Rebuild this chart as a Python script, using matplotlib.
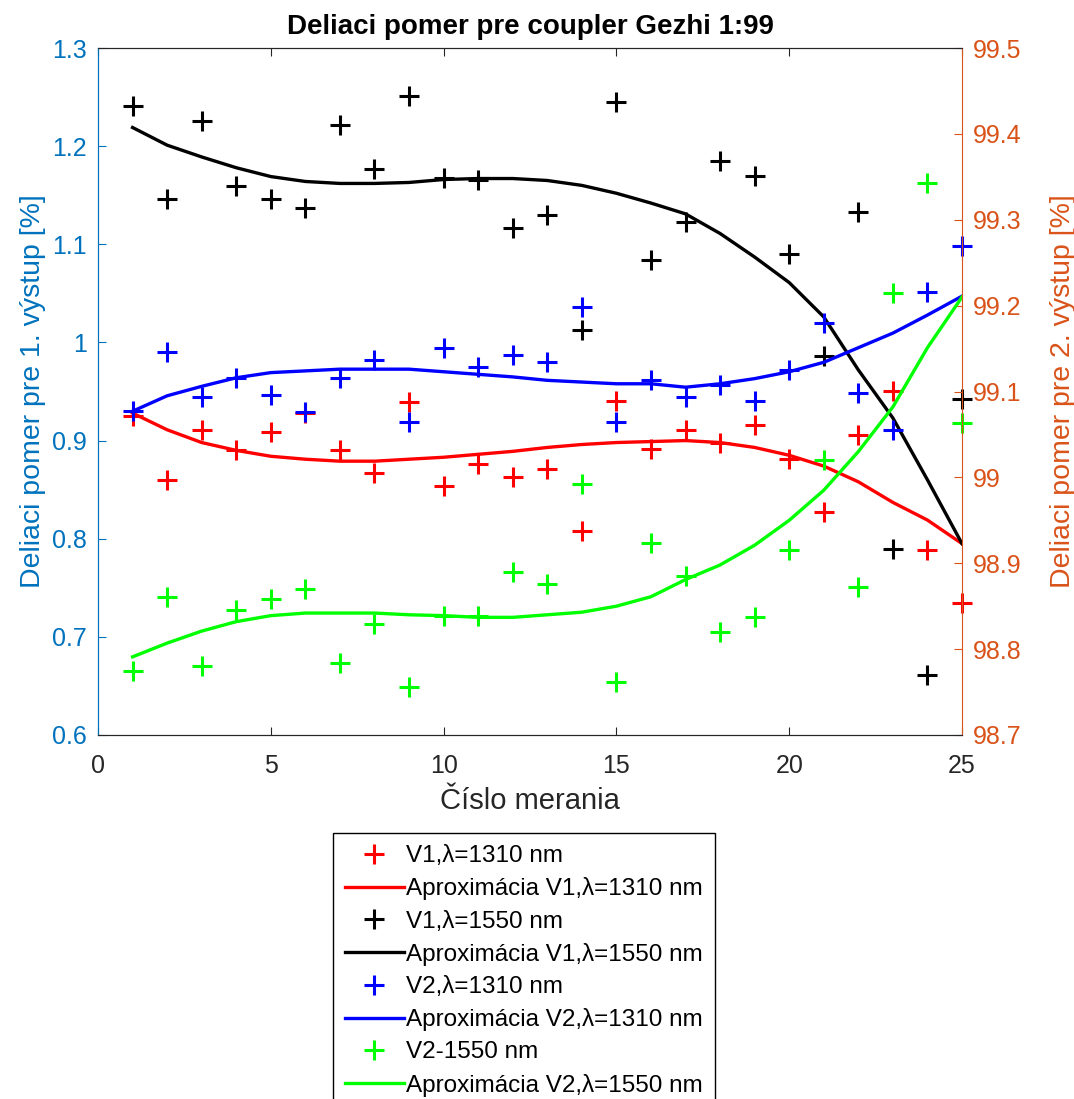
import matplotlib
matplotlib.use("Agg")
from matplotlib import pyplot as plt

plt.rcParams['font.family'] = ['Liberation Sans', 'DejaVu Sans']

meranie = list(range(1, 26))

# V1 (left axis, %)
v1_1310 = [0.925, 0.860, 0.911, 0.890, 0.909, 0.928, 0.890, 0.867, 0.939, 0.854,
           0.876, 0.863, 0.871, 0.808, 0.940, 0.891, 0.911, 0.898, 0.916, 0.881,
           0.827, 0.906, 0.950, 0.788, 0.734]
v1_1310_apx = [0.928, 0.911, 0.898, 0.890, 0.884, 0.881, 0.879, 0.879, 0.881, 0.883,
               0.886, 0.889, 0.893, 0.896, 0.898, 0.899, 0.900, 0.898, 0.893, 0.885,
               0.874, 0.858, 0.837, 0.819, 0.795]
v1_1550 = [1.241, 1.146, 1.226, 1.159, 1.146, 1.137, 1.222, 1.177, 1.251, 1.168,
           1.166, 1.117, 1.130, 1.013, 1.245, 1.084, 1.123, 1.185, 1.170, 1.090,
           0.986, 1.133, 0.790, 0.661, 0.942]
v1_1550_apx = [1.219, 1.201, 1.189, 1.178, 1.169, 1.164, 1.162, 1.162, 1.163, 1.166,
               1.167, 1.167, 1.165, 1.160, 1.152, 1.142, 1.131, 1.111, 1.087, 1.061,
               1.026, 0.972, 0.923, 0.860, 0.795]

# V2 (right axis, %)
v2_1310 = [99.077, 99.146, 99.094, 99.116, 99.096, 99.076, 99.116, 99.137, 99.064, 99.151,
           99.129, 99.143, 99.134, 99.198, 99.064, 99.113, 99.094, 99.108, 99.089, 99.125,
           99.180, 99.098, 99.055, 99.216, 99.269]
v2_1310_apx = [99.077, 99.095, 99.106, 99.116, 99.122, 99.124, 99.126, 99.126, 99.126, 99.123,
               99.120, 99.117, 99.113, 99.111, 99.109, 99.109, 99.105, 99.109, 99.115, 99.123,
               99.134, 99.151, 99.168, 99.189, 99.211]
v2_1550 = [98.775, 98.861, 98.780, 98.846, 98.858, 98.870, 98.784, 98.829, 98.756, 98.839,
           98.839, 98.890, 98.876, 98.992, 98.762, 98.923, 98.885, 98.820, 98.837, 98.915,
           99.020, 98.872, 99.215, 99.343, 99.063]
v2_1550_apx = [98.791, 98.807, 98.821, 98.832, 98.839, 98.842, 98.842, 98.842, 98.840, 98.839,
               98.837, 98.837, 98.840, 98.843, 98.850, 98.861, 98.881, 98.898, 98.921, 98.950,
               98.985, 99.030, 99.082, 99.151, 99.210]

left_ticks = [0.6, 0.7, 0.8, 0.9, 1, 1.1, 1.2, 1.3]
left_labels = ['0.6', '0.7', '0.8', '0.9', '1', '1.1', '1.2', '1.3']
right_ticks = [98.7, 98.8, 98.9, 99, 99.1, 99.2, 99.3, 99.4, 99.5]
right_labels = ['98.7', '98.8', '98.9', '99', '99.1', '99.2', '99.3', '99.4', '99.5']

c_left = '#0072BD'
c_right = '#D95319'
ms = 14
mew = 2.2

fig = plt.figure(figsize=(10.74, 10.99), dpi=100)
ax = fig.add_axes([98 / 1074, 1 - 735 / 1099, (962 - 98) / 1074, (735 - 48) / 1099])
ax2 = ax.twinx()

h1, = ax.plot(meranie, v1_1310, '+', color='red', ms=ms, mew=mew, clip_on=False, label='V1,λ=1310 nm')
h2, = ax.plot(meranie, v1_1310_apx, '-', color='red', lw=2.4, label='Aproximácia V1,λ=1310 nm')
h3, = ax.plot(meranie, v1_1550, '+', color='black', ms=ms, mew=mew, clip_on=False, label='V1,λ=1550 nm')
h4, = ax.plot(meranie, v1_1550_apx, '-', color='black', lw=2.4, label='Aproximácia V1,λ=1550 nm')
h5, = ax2.plot(meranie, v2_1310, '+', color='blue', ms=ms, mew=mew, clip_on=False, label='V2,λ=1310 nm')
h6, = ax2.plot(meranie, v2_1310_apx, '-', color='blue', lw=2.4, label='Aproximácia V2,λ=1310 nm')
h7, = ax2.plot(meranie, v2_1550, '+', color='#00FF00', ms=ms, mew=mew, clip_on=False, label='V2-1550 nm')
h8, = ax2.plot(meranie, v2_1550_apx, '-', color='#00FF00', lw=2.4, label='Aproximácia V2,λ=1550 nm')

ax.set_xlim(0, 25)
ax.set_ylim(0.6, 1.3)
ax2.set_ylim(98.7, 99.5)
ax.set_xticks([0, 5, 10, 15, 20, 25])
ax.set_yticks(left_ticks)
ax.set_yticklabels(left_labels)
ax2.set_yticks(right_ticks)
ax2.set_yticklabels(right_labels)

fs = 18
ax.tick_params(axis='x', direction='in', top=True, labelsize=fs, colors='#262626', length=6, pad=14)
ax.tick_params(axis='y', direction='in', labelsize=fs, colors=c_left, length=6, pad=8)
ax2.tick_params(axis='y', direction='in', labelsize=fs, colors=c_right, length=6, pad=8)
ax.spines['left'].set_color(c_left)
ax2.spines['left'].set_color(c_left)
ax2.spines['right'].set_color(c_right)
ax.spines['right'].set_visible(False)
for s in ['top', 'bottom']:
    ax.spines[s].set_color('#262626')
    ax2.spines[s].set_color('#262626')

ax.set_xlabel('Číslo merania', fontsize=21, color='#262626', labelpad=6)
ax.set_ylabel('Deliaci pomer pre 1. výstup [%]', fontsize=20.5, color=c_left, labelpad=4)
ax2.set_ylabel('Deliaci pomer pre 2. výstup [%]', fontsize=20.5, color=c_right, labelpad=20)
ax.set_title('Deliaci pomer pre coupler Gezhi 1:99', fontsize=20, fontweight='bold', pad=10)

leg = fig.legend(handles=[h1, h2, h3, h4, h5, h6, h7, h8], loc='upper center',
                 bbox_to_anchor=(524 / 1074, 1 - 833 / 1099), fontsize=17.5,
                 fancybox=False, framealpha=1, edgecolor='black', numpoints=1,
                 handlelength=2.4, handletextpad=0.1, labelspacing=0.42,
                 borderpad=0.5, borderaxespad=0)
leg.get_frame().set_linewidth(1)

fig.savefig('out.png', dpi=100)
